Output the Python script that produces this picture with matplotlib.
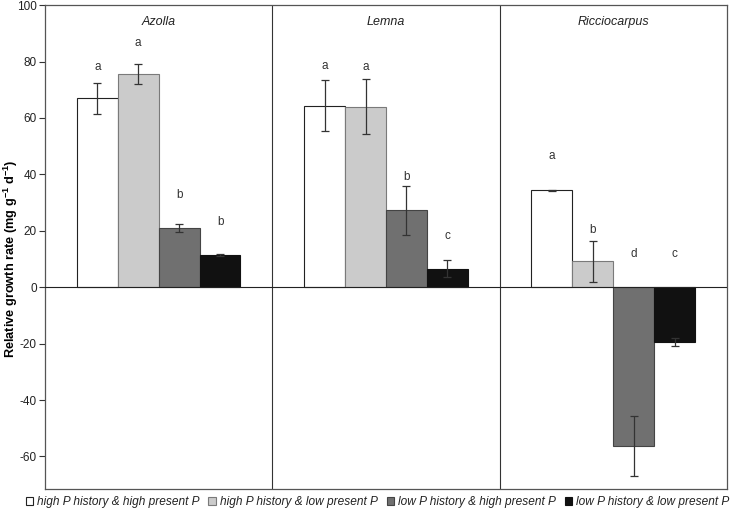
import numpy as np
import matplotlib
matplotlib.use("Agg")
import matplotlib.pyplot as plt
from matplotlib.patches import Patch

plt.rcParams['font.family'] = ['Liberation Sans', 'DejaVu Sans']
plt.rcParams['axes.unicode_minus'] = False
plt.rcParams['mathtext.fontset'] = 'custom'
plt.rcParams['mathtext.bf'] = 'Liberation Sans:bold'

# data
species = ["Azolla", "Lemna", "Ricciocarpus"]
treatments = ["high P history & high present P",
              "high P history & low present P",
              "low P history & high present P",
              "low P history & low present P"]
rgr = np.array([[67.0, 75.5, 21.0, 11.5],
                [64.4, 64.0, 27.2, 6.5],
                [34.3, 9.2, -56.2, -19.4]])
err = np.array([[5.5, 3.5, 1.5, 0.3],
                [9.0, 9.8, 8.7, 3.0],
                [0.3, 7.3, 10.6, 1.3]])
letters = [["a", "a", "b", "b"],
           ["a", "a", "b", "c"],
           ["a", "b", "d", "c"]]
letter_y = [[78.0, 86.6, 32.6, 23.2],
            [78.5, 78.1, 39.1, 18.2],
            [46.5, 20.2, 11.7, 11.7]]
yticks = [-60, -40, -20, 0, 20, 40, 60, 80, 100]

colors = ["#ffffff", "#cbcbcb", "#707070", "#111111"]
edges = ["#222222", "#7a7a7a", "#444444", "#111111"]

fig = plt.figure(figsize=(7.38, 5.13), dpi=100)
ax = fig.add_axes([0.061, 0.047, 0.924, 0.943])

x = np.arange(len(species))
w = 0.18
for i in range(4):
    pos = x + (i - 1.5) * w
    ax.bar(pos, rgr[:, i], width=w, color=colors[i], edgecolor=edges[i],
           linewidth=0.8, zorder=2)
    ax.errorbar(pos, rgr[:, i], yerr=err[:, i], fmt='none', ecolor='#333333',
                elinewidth=0.9, capsize=3, capthick=0.9, zorder=3)
    for j in range(len(species)):
        ax.text(pos[j], letter_y[j][i], letters[j][i], ha='center', va='center',
                fontsize=8.5, color='#333333')

for j, s in enumerate(species):
    ax.text(x[j], 94.0, s, style='italic', ha='center', va='center',
            fontsize=9, color='#222222')

# dividers between species
for d in [0.5, 1.5]:
    ax.axvline(d, color='#333333', lw=0.8, zorder=1)
ax.axhline(0, color='#222222', lw=0.8, zorder=4)

ax.set_xlim(-0.5, 2.5)
ax.set_ylim(-71.5, 100)
ax.set_xticks([])
ax.set_yticks(yticks)
ax.tick_params(axis='y', labelsize=8.5, length=4, width=0.8, colors='#333333',
               labelcolor='#222222', pad=2)
for sp in ax.spines.values():
    sp.set_color('#555555')
    sp.set_linewidth(0.9)
ax.set_ylabel(r"Relative growth rate (mg g$^{\mathbf{-1}}$ d$^{\mathbf{-1}}$)",
              fontsize=9.2, fontweight='bold')
ax.yaxis.set_label_coords(-0.036, 0.475)

handles = [Patch(facecolor=colors[i], edgecolor=edges[i], linewidth=0.8)
           for i in range(4)]
leg = fig.legend(handles, treatments, loc='lower center', ncol=4,
                 bbox_to_anchor=(0.5115, -0.012), frameon=False,
                 prop={'style': 'italic', 'size': 8.6},
                 handlelength=0.6, handleheight=0.6, handletextpad=0.35,
                 columnspacing=0.75)
for t in leg.get_texts():
    t.set_color('#222222')

fig.savefig("out.png", dpi=100)
